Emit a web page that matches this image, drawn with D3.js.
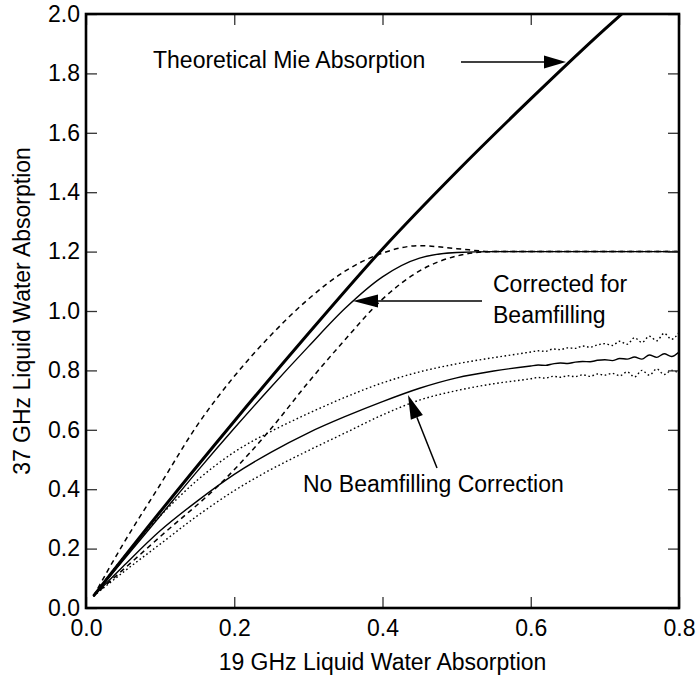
<!DOCTYPE html>
<html><head><meta charset="utf-8">
<script src="https://cdn.jsdelivr.net/npm/d3@7"></script>
<style>
html,body{margin:0;padding:0;background:#fff;}
svg{display:block;font-family:"Liberation Sans",Arial,Helvetica,sans-serif;}
</style></head>
<body>
<svg id="chart" width="699" height="676"></svg>
<script>
// ---- data ----
const xTicks = [0.0, 0.2, 0.4, 0.6, 0.8];
const yTicks = [0.0, 0.2, 0.4, 0.6, 0.8, 1.0, 1.2, 1.4, 1.6, 1.8, 2.0];

const mieX = [0.01, 0.1, 0.2, 0.3, 0.4, 0.5, 0.6, 0.7, 0.725];
const mieY = [0.04, 0.324, 0.629, 0.924, 1.209, 1.469, 1.714, 1.949, 2.005];

const corrX = [0.01, 0.1, 0.15, 0.2, 0.25, 0.3, 0.35, 0.4, 0.45, 0.5, 0.55, 0.8];
const corrY = [0.04, 0.31, 0.46, 0.605, 0.745, 0.88, 1.01, 1.115, 1.178, 1.197, 1.2, 1.2];

const corrHiX = [0.01, 0.05, 0.1, 0.15, 0.2, 0.25, 0.3, 0.35, 0.4, 0.45, 0.5, 0.55, 0.8];
const corrHiY = [0.04, 0.215, 0.415, 0.615, 0.78, 0.92, 1.04, 1.135, 1.195, 1.22, 1.21, 1.2, 1.2];

const corrLoX = [0.01, 0.1, 0.19, 0.25, 0.3, 0.35, 0.4, 0.45, 0.5, 0.55, 0.8];
const corrLoY = [0.04, 0.24, 0.44, 0.605, 0.76, 0.905, 1.04, 1.135, 1.185, 1.2, 1.2];

const noBeamX = [0.01, 0.05, 0.1, 0.15, 0.2, 0.25, 0.3, 0.35, 0.4, 0.45, 0.5, 0.55,
  0.60, 0.61, 0.62, 0.63, 0.64, 0.65, 0.66, 0.67, 0.68, 0.69, 0.70, 0.71, 0.72, 0.73, 0.74, 0.75, 0.76, 0.77, 0.78, 0.79, 0.80];
const noBeamMid = [0.04, 0.14, 0.26, 0.36, 0.45, 0.525, 0.59, 0.645, 0.695, 0.74, 0.775, 0.798,
  0.815, 0.818, 0.817, 0.822, 0.825, 0.823, 0.828, 0.83, 0.829, 0.834, 0.836, 0.833, 0.84, 0.838, 0.845, 0.838, 0.852, 0.844, 0.856, 0.847, 0.862];
const noBeamHi = [0.04, 0.17, 0.31, 0.43, 0.525, 0.595, 0.655, 0.71, 0.758, 0.795, 0.822, 0.843,
  0.862, 0.866, 0.864, 0.872, 0.87, 0.876, 0.874, 0.882, 0.878, 0.886, 0.89, 0.884, 0.898, 0.888, 0.91, 0.894, 0.915, 0.9, 0.925, 0.905, 0.928];
const noBeamLo = [0.04, 0.12, 0.215, 0.31, 0.395, 0.467, 0.53, 0.59, 0.65, 0.7, 0.732, 0.755,
  0.772, 0.776, 0.774, 0.78, 0.777, 0.782, 0.779, 0.785, 0.78, 0.788, 0.784, 0.79, 0.782, 0.795, 0.778, 0.8, 0.784, 0.805, 0.786, 0.8, 0.79];

const xTitle = "19 GHz Liquid Water Absorption";
const yTitle = "37 GHz Liquid Water Absorption";

// ---- layout ----
const svg = d3.select("#chart");
const L = 86, T = 14, W = 593, H = 594;
const x = d3.scaleLinear().domain([0, 0.8]).range([L, L + W]);
const y = d3.scaleLinear().domain([0, 2.0]).range([T + H, T]);
const FS = 23;

svg.append("defs").append("clipPath").attr("id", "clip")
  .append("rect").attr("x", L).attr("y", T).attr("width", W).attr("height", H);

const zip = (xs, ys) => xs.map((v, i) => [v, ys[i]]);
const line = d3.line().x(d => x(d[0])).y(d => y(d[1])).curve(d3.curveMonotoneX);

const g = svg.append("g").attr("clip-path", "url(#clip)");
function draw(xs, ys, w, dash) {
  g.append("path").datum(zip(xs, ys)).attr("d", line)
    .attr("fill", "none").attr("stroke", "#000").attr("stroke-width", w)
    .attr("stroke-dasharray", dash || null);
}
draw(noBeamX, noBeamLo, 1.4, "1.6,2.6");
draw(noBeamX, noBeamHi, 1.4, "1.6,2.6");
draw(noBeamX, noBeamMid, 1.4);
draw(corrLoX, corrLoY, 1.5, "5,4");
draw(corrHiX, corrHiY, 1.5, "5,4");
draw(corrX, corrY, 1.4);
draw(mieX, mieY, 3);

// ---- axes (ticks inward on all sides) ----
const tickLen = 11;
const axB = svg.append("g").attr("transform", `translate(0,${T + H})`)
  .call(d3.axisBottom(x).tickValues(xTicks).tickSize(-tickLen).tickPadding(12).tickFormat(d3.format(".1f")));
const axT = svg.append("g").attr("transform", `translate(0,${T})`)
  .call(d3.axisTop(x).tickValues(xTicks).tickSize(-tickLen).tickFormat(""));
const axL = svg.append("g").attr("transform", `translate(${L},0)`)
  .call(d3.axisLeft(y).tickValues(yTicks).tickSize(-tickLen).tickPadding(6).tickFormat(d3.format(".1f")));
const axR = svg.append("g").attr("transform", `translate(${L + W},0)`)
  .call(d3.axisRight(y).tickValues(yTicks).tickSize(-tickLen).tickFormat(""));
[axB, axT, axL, axR].forEach(a => {
  a.select(".domain").remove();
  a.selectAll(".tick line").attr("stroke", "#333").attr("stroke-width", 1.3);
  a.selectAll("text").attr("font-size", FS).attr("fill", "#000")
    .attr("font-family", "'Liberation Sans',Arial,sans-serif");
});
axB.selectAll("text").attr("dy", "0.71em");

svg.append("rect").attr("x", L).attr("y", T).attr("width", W).attr("height", H)
  .attr("fill", "none").attr("stroke", "#000").attr("stroke-width", 2.6);

// titles
svg.append("text").attr("x", L + W / 2).attr("y", 670).attr("text-anchor", "middle")
  .attr("font-size", FS).text(xTitle);
svg.append("text").attr("transform", `translate(30,${T + H / 2}) rotate(-90)`)
  .attr("text-anchor", "middle").attr("font-size", FS).text(yTitle);

// annotations
function label(tx, ty, s) {
  svg.append("text").attr("x", tx).attr("y", ty).attr("font-size", FS).text(s);
}
label(153, 68, "Theoretical Mie Absorption");
label(493, 292, "Corrected for");
label(493, 323, "Beamfilling");
label(303, 492, "No Beamfilling Correction");

function arrow(x0, y0, x1, y1, headLen, headHalf) {
  const ang = Math.atan2(y1 - y0, x1 - x0);
  const bx = x1 - headLen * Math.cos(ang), by = y1 - headLen * Math.sin(ang);
  svg.append("line").attr("x1", x0).attr("y1", y0).attr("x2", bx).attr("y2", by)
    .attr("stroke", "#000").attr("stroke-width", 1.5);
  const px = -Math.sin(ang) * headHalf, py = Math.cos(ang) * headHalf;
  svg.append("path").attr("d", `M${x1},${y1}L${bx + px},${by + py}L${bx - px},${by - py}Z`).attr("fill", "#000");
}
arrow(461, 62, 566, 62, 22, 6.5);
arrow(482, 301, 353, 301, 25, 6.5);
arrow(437, 468, 408, 395, 24, 6.5);
</script>
</body></html>
